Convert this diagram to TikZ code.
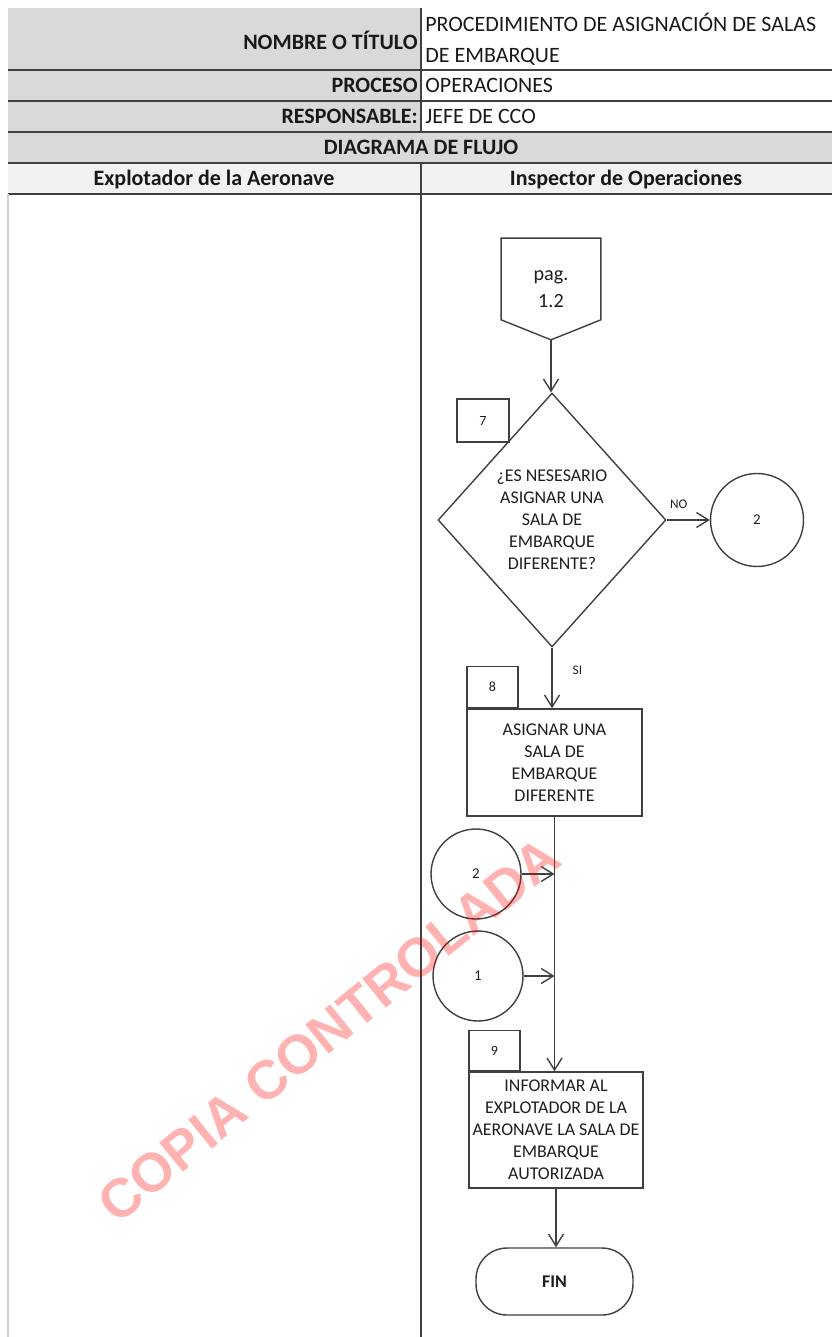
\documentclass[tikz,border=0pt]{standalone}
\usepackage{fontspec}
\setmainfont{Carlito}
\newfontfamily\wmfont{Liberation Sans}
\usetikzlibrary{positioning,shapes.geometric,arrows.meta,calc}

\definecolor{headgray}{HTML}{D9D9D9}
\definecolor{sublight}{HTML}{F2F2F2}
\definecolor{rulegray}{HTML}{404040}
\definecolor{inkgray}{HTML}{1E1E1E}

\tikzset{
  flow line/.style={draw=rulegray, line width=0.8pt},
  flow arrow/.style={flow line, -{Straight Barb[length=0.24cm,width=0.3cm,line width=0.8pt]}},
  task box/.style={draw=rulegray, line width=0.8pt, align=center, text=inkgray,
    font=\fontsize{10.2}{12.5}\selectfont, inner sep=0pt},
  step num/.style={draw=rulegray, line width=0.8pt, text=inkgray,
    font=\fontsize{8}{9}\selectfont, inner sep=0pt, minimum width=1.02cm, minimum height=0.82cm},
  link circle/.style={draw=rulegray, circle, line width=0.8pt, text=inkgray,
    minimum size=1.8cm, font=\fontsize{8.5}{10}\selectfont, inner sep=0pt},
  head text/.style={font=\fontsize{12.5}{15}\selectfont\bfseries, text=black!90, inner sep=0pt},
  cell text/.style={font=\fontsize{12.5}{15}\selectfont, text=black!90, inner sep=0pt},
  small label/.style={font=\fontsize{7.5}{9}\selectfont, text=inkgray, inner sep=0pt},
}

\begin{document}
\begin{tikzpicture}[x=0.02cm, y=-0.02cm]
  \useasboundingbox (0,0) rectangle (832,1337);

  % cabecera
  \fill[headgray] (8,8) rectangle (421,132);
  \fill[headgray] (8,132) rectangle (832,163);
  \fill[sublight] (8,163) rectangle (832,194);
  \foreach \y in {70,101,132,163,194}
    \draw[rulegray, line width=1.1pt] (8,\y) -- (832,\y);
  \draw[rulegray, line width=1.1pt] (421,8) -- (421,132);
  \draw[rulegray, line width=1.1pt] (421,163) -- (421,1337);
  \draw[black!18, line width=0.8pt] (8,194) -- (8,1337);

  \node[head text, anchor=base east] (nombre) at (418,50) {NOMBRE O TÍTULO};
  \node[cell text, anchor=base west] (titulo1) at (425,32) {PROCEDIMIENTO DE ASIGNACIÓN DE SALAS};
  \node[cell text, anchor=base west] (titulo2) at (425,63) {DE EMBARQUE};
  \node[head text, anchor=base east] (proceso) at (418,93) {PROCESO};
  \node[cell text, anchor=base west] (operac) at (425,93) {OPERACIONES};
  \node[head text, anchor=base east] (resp) at (418,124) {RESPONSABLE:};
  \node[cell text, anchor=base west] (jefe) at (425,124) {JEFE DE CCO};
  \node[head text, anchor=base] (diagrama) at (421,155) {DIAGRAMA DE FLUJO};
  \node[head text, anchor=base] (explot) at (214,186) {Explotador de la Aeronave};
  \node[head text, anchor=base] (inspec) at (626,186) {Inspector de Operaciones};

  % diagrama
  \node[inner sep=0pt, minimum width=1.98cm, minimum height=2.02cm, align=center,
    text=inkgray, font=\fontsize{11.5}{15}\selectfont] (pag) at (551,289) {pag.\\1.2};
  \draw[flow line] (pag.north west) -- (pag.north east) -- ($(pag.south east)+(0,-20)$)
    -- (pag.south) -- ($(pag.south west)+(0,-20)$) -- cycle;

  \node[task box, diamond, minimum width=4.56cm, minimum height=5.08cm] (ask) at (552,520)
    {¿ES NESESARIO\\ASIGNAR UNA\\SALA DE\\EMBARQUE\\DIFERENTE?};
  \node[step num, minimum width=1.04cm, minimum height=0.86cm] (n7) at (483,420.5) {7};
  \node[link circle, minimum size=1.86cm] (out2) at (757,520) {2};

  \node[task box, minimum width=3.5cm, minimum height=2.14cm] (b8) at (554.5,762.5)
    {ASIGNAR UNA\\SALA DE\\EMBARQUE\\DIFERENTE};
  \node[step num, anchor=south west] (n8) at (b8.north west) {8};

  \node[link circle] (in2) at (476,874) {2};
  \node[link circle] (in1) at (478,976) {1};

  \node[task box, minimum width=3.48cm, minimum height=2.32cm] (b9) at (556,1130)
    {INFORMAR AL\\EXPLOTADOR DE LA\\AERONAVE LA SALA DE\\EMBARQUE\\AUTORIZADA};
  \node[step num, minimum height=0.8cm, anchor=south west] (n9) at (b9.north west) {9};

  \node[task box, rounded corners=0.62cm, minimum width=3.14cm, minimum height=1.34cm,
    font=\fontsize{10.2}{12.5}\selectfont\bfseries] (fin) at (554.5,1281.5) {FIN};

  \draw[flow arrow] (pag.south) -- (pag.south |- ask.north);
  \draw[flow arrow] (ask.east) -- node[small label, above=0.22cm, pos=0.28] {NO} (out2.west);
  \draw[flow arrow] (ask.south) -- node[small label, right=0.4cm, pos=0.37] {SI} (ask.south |- b8.north);
  \draw[flow arrow] (b8.south) -- (b8.south |- b9.north);
  \draw[flow arrow] (in2.east) -- (in2.east -| b8.south);
  \draw[flow arrow] (in1.east) -- (in1.east -| b8.south);
  \draw[flow arrow] (b9.south) -- (b9.south |- fin.north);

  % marca de agua
  \node[text=red, text opacity=0.3, rotate=39, inner sep=0pt,
    font=\wmfont\bfseries\fontsize{31}{33}\selectfont] (marca) at (329,1030) {COPIA CONTROLADA};
\end{tikzpicture}
\end{document}
